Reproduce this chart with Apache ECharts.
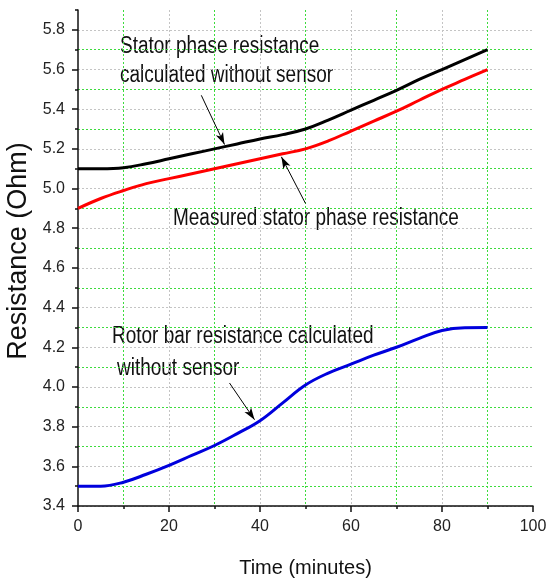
<!DOCTYPE html>
<html>
<head>
<meta charset="utf-8">
<script src="https://cdn.jsdelivr.net/npm/echarts@6/dist/echarts.min.js"></script>
<style>
  html, body { margin: 0; padding: 0; background: #fff; }
  #chart { width: 546px; height: 584px; }
</style>
</head>
<body>
<div id="chart"></div>
<script>
// ---- data ----
const time = [0, 5, 10, 15, 20, 25, 30, 35, 40, 45, 50, 55, 60, 65, 70, 75, 80, 85, 90];
const statorCalculated = [5.1, 5.1, 5.105, 5.125, 5.15, 5.175, 5.2, 5.225, 5.25, 5.272, 5.3, 5.345, 5.395, 5.445, 5.495, 5.55, 5.6, 5.65, 5.7];
const statorMeasured   = [4.9, 4.95, 4.99, 5.025, 5.05, 5.075, 5.1, 5.125, 5.15, 5.175, 5.2, 5.24, 5.29, 5.34, 5.39, 5.445, 5.5, 5.55, 5.6];
const rotorCalculated  = [3.5, 3.5, 3.52, 3.56, 3.605, 3.655, 3.705, 3.765, 3.83, 3.92, 4.01, 4.07, 4.115, 4.16, 4.2, 4.245, 4.285, 4.299, 4.3];
const xTickLabels = [0, 20, 40, 60, 80, 100];
const yTickLabels = [3.4, 3.6, 3.8, 4.0, 4.2, 4.4, 4.6, 4.8, 5.0, 5.2, 5.4, 5.6, 5.8];
const annotationLines = [
  'Stator phase resistance',
  'calculated without sensor',
  'Measured stator phase resistance',
  'Rotor bar resistance calculated',
  'without sensor'
];

const pairs = arr => time.map((t, i) => [t, arr[i]]);
const sans = "'Liberation Sans', Arial, sans-serif";
const GREY = '#c4c4c4';
const GREEN = '#3ddc3d';

function arrow(from, to) {
  return {
    silent: true,
    symbol: ['none', 'arrow'],
    symbolSize: [6, 12],
    label: { show: false },
    lineStyle: { color: '#000', width: 1, type: 'solid' },
    emphasis: { disabled: true },
    animation: false,
    data: [[{ coord: from }, { coord: to }]]
  };
}

function note(text, left, top) {
  return {
    type: 'text', left: left, top: top, silent: true,
    scaleX: 0.825, originX: 0,
    style: { text: text, font: "23px " + sans, fill: '#111' }
  };
}

const chart = echarts.init(document.getElementById('chart'), null, { renderer: 'canvas' });
const option = {
  animation: false,
  backgroundColor: '#fff',
  grid: { left: 78, right: 13, top: 10, bottom: 78, containLabel: false, outerBoundsMode: 'none' },
  xAxis: [{
    type: 'value', min: 0, max: 100, interval: 20,
    name: 'Time (minutes)', nameLocation: 'middle', nameGap: 52,
    nameTextStyle: { fontFamily: sans, fontSize: 20, color: '#111' },
    axisLine: { onZero: false, lineStyle: { color: '#111', width: 1.5 } },
    axisTick: { show: true, length: 6, lineStyle: { color: '#111', width: 1.5 } },
    minorTick: { show: true, splitNumber: 2, length: 3, lineStyle: { color: '#111', width: 1.5 } },
    axisLabel: {
      fontFamily: sans, fontSize: 16, color: '#222', margin: 13,
      customValues: xTickLabels
    },
    splitLine: { show: true, showMinLine: false, showMaxLine: false, lineStyle: { color: GREY, width: 1, type: [2, 2] } },
    minorSplitLine: { show: true, lineStyle: { color: GREEN, width: 1, type: [2, 2] } }
  }],
  yAxis: [{
    type: 'value', min: 3.4, max: 5.9, interval: 0.1,
    name: 'Resistance (Ohm)', nameLocation: 'middle', nameGap: 41,
    nameTextStyle: { fontFamily: sans, fontSize: 27, color: '#111', padding: [0, 0, 0, 14] },
    axisLine: { show: true, onZero: false, lineStyle: { color: '#111', width: 1.5 } },
    axisTick: { show: true, length: 3, lineStyle: { color: '#111', width: 1.5 } },
    axisLabel: {
      fontFamily: sans, fontSize: 16, color: '#222', margin: 13,
      formatter: v => {
        const k = Math.round(v * 10);
        return (k % 2 === 0 && k <= 58) ? (k / 10).toFixed(1) : '';
      }
    },
    splitLine: { show: true, showMinLine: true, showMaxLine: false, lineStyle: { color: [GREY, GREEN], width: 1, type: [2, 2] } }
  }, {
    type: 'value', min: 3.4, max: 5.9, interval: 0.2, position: 'left', offset: 0,
    axisLine: { show: false },
    axisTick: { show: true, length: 6, lineStyle: { color: '#111', width: 1.5 }, customValues: yTickLabels },
    axisLabel: { show: false },
    splitLine: { show: false }
  }],
  graphic: [
    note(annotationLines[0], 120, 35),
    note(annotationLines[1], 120, 64),
    note(annotationLines[2], 173, 207),
    note(annotationLines[3], 112, 325),
    note(annotationLines[4], 117, 357)
  ],
  series: [
    {
      name: 'Stator phase resistance calculated without sensor',
      type: 'line', smooth: 0.4, showSymbol: false, symbol: 'none',
      lineStyle: { color: '#000', width: 3 }, itemStyle: { color: '#000' },
      data: pairs(statorCalculated),
      markLine: arrow([27.1, 5.47], [32.2, 5.222]),
      z: 3
    },
    {
      name: 'Measured stator phase resistance',
      type: 'line', smooth: 0.4, showSymbol: false, symbol: 'none',
      lineStyle: { color: '#ff0000', width: 3 }, itemStyle: { color: '#ff0000' },
      data: pairs(statorMeasured),
      markLine: arrow([50.0, 4.925], [44.7, 5.16]),
      z: 3
    },
    {
      name: 'Rotor bar resistance calculated without sensor',
      type: 'line', smooth: 0.4, showSymbol: false, symbol: 'none',
      lineStyle: { color: '#0000dd', width: 3 }, itemStyle: { color: '#0000dd' },
      data: pairs(rotorCalculated),
      markLine: arrow([33.3, 4.02], [38.8, 3.835]),
      z: 3
    }
  ]
};
chart.setOption(option);
</script>
</body>
</html>
